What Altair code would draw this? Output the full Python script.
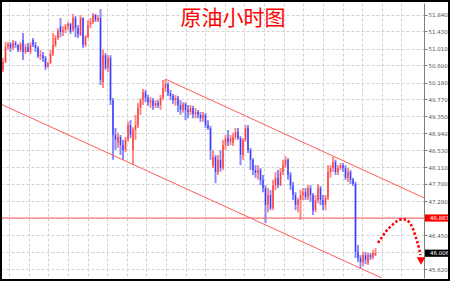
import altair as alt
import pandas as pd

# ---- data (crude oil, hourly candles) ----
opens = [
    50.49, 50.68, 51.05, 51.12, 51.03, 51.15, 51.10, 50.98, 51.22, 50.93,
    51.05, 50.93, 51.22, 51.10, 51.03, 50.83, 50.85, 50.78, 50.56, 50.66,
    50.88, 51.10, 51.27, 51.56, 51.42, 51.47, 51.56, 51.61, 51.47, 51.76,
    51.51, 51.34, 51.76, 51.10, 51.29, 51.59, 51.66, 51.83, 51.71, 51.76,
    50.19, 50.85, 50.54, 50.78, 49.75, 48.90, 48.70, 48.85, 48.65, 48.53,
    48.78, 49.14, 48.53, 49.02, 49.14, 49.56, 49.75, 49.95, 49.80, 49.70,
    49.75, 49.61, 49.68, 49.63, 49.80, 50.05, 50.14, 49.92, 49.85, 49.75,
    49.80, 49.63, 49.51, 49.66, 49.51, 49.46, 49.56, 49.41, 49.46, 49.39,
    49.31, 49.39, 49.14, 49.07, 48.16, 48.36, 47.99, 48.29, 48.09, 48.65,
    48.82, 48.73, 48.70, 48.85, 48.97, 48.82, 48.41, 48.78, 49.07, 48.53,
    48.29, 48.04, 47.97, 48.04, 47.80, 47.60, 47.19, 47.43, 47.11, 47.67,
    47.85, 47.67, 47.99, 48.16, 48.29, 47.92, 47.67, 47.43, 47.19, 47.31,
    47.43, 47.50, 47.38, 47.60, 47.43, 47.06, 47.31, 47.60, 47.31, 47.19,
    47.36, 47.99, 48.09, 48.24, 47.99, 48.09, 48.16, 48.09, 47.85, 47.99,
    47.80, 47.70, 46.04, 45.89, 45.79, 45.96, 45.77, 45.96, 45.91, 45.96,
]
highs = [
    50.78, 51.17, 51.17, 51.17, 51.22, 51.20, 51.12, 51.17, 51.39, 51.12,
    51.15, 51.17, 51.27, 51.17, 51.07, 50.98, 50.93, 50.83, 50.68, 50.98,
    51.39, 51.34, 51.51, 51.76, 51.56, 51.61, 51.66, 51.64, 51.86, 51.81,
    51.59, 51.83, 51.78, 51.34, 51.71, 51.76, 51.88, 51.86, 51.83, 51.98,
    50.98, 50.90, 50.85, 50.85, 49.80, 49.07, 48.95, 48.90, 48.78, 48.85,
    49.22, 49.26, 49.09, 49.39, 49.68, 49.80, 50.02, 50.00, 49.88, 49.83,
    49.80, 49.75, 49.75, 49.88, 50.24, 50.27, 50.19, 50.00, 49.90, 49.88,
    49.85, 49.75, 49.70, 49.70, 49.63, 49.63, 49.61, 49.56, 49.51, 49.46,
    49.46, 49.44, 49.26, 49.12, 48.53, 48.41, 48.41, 48.53, 48.78, 48.90,
    49.02, 48.90, 48.95, 49.07, 49.07, 48.87, 48.82, 49.14, 49.14, 48.58,
    48.33, 48.16, 48.16, 48.09, 47.92, 47.67, 47.60, 47.55, 47.80, 47.99,
    48.04, 48.09, 48.29, 48.38, 48.33, 47.99, 47.75, 47.50, 47.36, 47.55,
    47.60, 47.60, 47.67, 47.67, 47.48, 47.43, 47.70, 47.65, 47.43, 47.43,
    48.16, 48.16, 48.36, 48.29, 48.16, 48.21, 48.21, 48.16, 48.09, 48.04,
    47.85, 47.75, 46.21, 45.96, 46.04, 46.04, 46.01, 46.01, 46.08, 46.13,
]
lows = [
    50.44, 50.66, 50.98, 50.93, 50.98, 51.03, 50.93, 50.93, 50.73, 50.88,
    50.93, 50.88, 51.05, 50.93, 50.78, 50.73, 50.68, 50.49, 50.54, 50.63,
    50.83, 51.05, 51.22, 51.29, 51.32, 51.39, 51.47, 51.37, 51.42, 51.29,
    51.27, 51.32, 51.03, 51.05, 51.27, 51.51, 51.61, 51.66, 51.66, 50.12,
    50.05, 50.49, 50.44, 49.63, 48.29, 48.53, 48.58, 48.41, 48.29, 48.48,
    48.73, 48.82, 48.16, 48.78, 49.07, 49.39, 49.63, 49.70, 49.61, 49.56,
    49.51, 49.56, 49.56, 49.51, 49.75, 49.95, 49.85, 49.75, 49.66, 49.61,
    49.46, 49.39, 49.44, 49.26, 49.31, 49.39, 49.31, 49.31, 49.31, 49.22,
    49.22, 49.07, 49.02, 48.29, 48.09, 47.72, 47.92, 48.00, 48.04, 48.53,
    48.63, 48.65, 48.63, 48.78, 48.78, 48.16, 48.29, 48.73, 48.46, 48.04,
    47.92, 47.85, 47.80, 47.67, 47.50, 46.74, 47.01, 47.06, 47.06, 47.55,
    47.60, 47.65, 47.92, 48.09, 47.80, 47.55, 47.31, 47.06, 47.01, 46.82,
    47.31, 47.31, 47.31, 47.26, 46.94, 47.01, 47.23, 47.18, 47.06, 47.06,
    47.31, 47.85, 47.99, 47.92, 47.92, 48.04, 47.99, 47.80, 47.75, 47.70,
    47.65, 45.89, 45.79, 45.64, 45.69, 45.74, 45.72, 45.84, 45.86, 45.94,
]
closes = [
    50.68, 51.05, 51.12, 51.03, 51.15, 51.10, 50.98, 51.12, 50.93, 51.05,
    50.93, 51.10, 51.10, 51.03, 50.83, 50.85, 50.78, 50.56, 50.66, 50.88,
    51.10, 51.27, 51.44, 51.42, 51.47, 51.56, 51.61, 51.42, 51.76, 51.51,
    51.37, 51.76, 51.10, 51.29, 51.59, 51.66, 51.83, 51.71, 51.76, 50.24,
    50.85, 50.54, 50.78, 49.75, 48.90, 48.78, 48.85, 48.65, 48.53, 48.78,
    49.14, 48.90, 49.02, 49.14, 49.56, 49.75, 49.95, 49.80, 49.70, 49.75,
    49.61, 49.68, 49.63, 49.80, 50.05, 50.14, 49.92, 49.85, 49.75, 49.80,
    49.63, 49.51, 49.66, 49.51, 49.46, 49.56, 49.41, 49.46, 49.39, 49.31,
    49.39, 49.14, 49.07, 48.53, 48.36, 47.99, 48.29, 48.09, 48.65, 48.82,
    48.73, 48.82, 48.85, 48.97, 48.82, 48.41, 48.78, 49.07, 48.53, 48.29,
    48.04, 47.97, 48.04, 47.80, 47.60, 47.19, 47.43, 47.11, 47.67, 47.85,
    47.67, 47.99, 48.16, 48.29, 47.92, 47.67, 47.43, 47.19, 47.31, 47.43,
    47.50, 47.38, 47.60, 47.43, 47.06, 47.31, 47.60, 47.31, 47.19, 47.36,
    47.99, 48.09, 48.24, 47.99, 48.09, 48.16, 48.09, 47.85, 47.99, 47.80,
    47.70, 46.04, 45.89, 45.79, 45.96, 45.84, 45.96, 45.91, 46.01, 46.01,
]

tick_values = [51.84, 51.43, 51.01, 50.60, 50.18, 49.77, 49.35, 48.94,
               48.53, 48.11, 47.70, 47.28, 46.87, 46.45, 46.04, 45.62]

upper_i = [65.1, 168.4]
upper_v = [50.26, 47.36]
lower_i = [-0.4, 151.5]
lower_v = [49.64, 45.40]

level_value = 46.867
current_value = 46.006
level_label = "46.867"
current_label = "46.006"

arrow_i = [150.0, 151.6, 153.6, 155.6, 157.6, 160.0, 162.4, 164.0, 165.2, 166.4, 167.0]
arrow_v = [46.26, 46.40, 46.57, 46.69, 46.79, 46.84, 46.77, 46.60, 46.38, 46.13, 45.96]
arrow_head_i = [167.2]
arrow_head_v = [45.815]

title_text = "原油小时图"

# ---- tables ----
candles = pd.DataFrame({
    "i": list(range(len(opens))),
    "open": opens, "high": highs, "low": lows, "close": closes,
})
candles["dir"] = ["up" if c >= o else "down" for o, c in zip(opens, closes)]

X_DOMAIN = [-0.4, 168.4]
Y_DOMAIN = [45.40, 52.126]
xs = alt.Scale(domain=X_DOMAIN, nice=False, zero=False)
ys = alt.Scale(domain=Y_DOMAIN, nice=False, zero=False)

vgrid = [2.52 + 7.84 * k for k in range(21)]
GRID = "#d2d2d2"
LINE_RED = "#ff5c5c"

wicks = alt.Chart(candles).mark_rule(strokeWidth=2).encode(
    x=alt.X("i:Q", scale=xs, axis=alt.Axis(values=vgrid, tickCount=len(vgrid) + 5, grid=True,
                                         labels=False, ticks=False, domain=False, title="",
                                         gridColor=GRID, gridDash=[3, 2])),
    y=alt.Y("low:Q", scale=ys, axis=alt.Axis(orient="right", values=tick_values,
                                           tickCount=len(tick_values) + 5, format=".3f",
                                           grid=True, gridColor=GRID, gridDash=[3, 2],
                                           labelFontSize=5.5, labelColor="#555555",
                                           labelFont="DejaVu Sans", labelOverlap=False,
                                           labelBound=False,
                                           tickSize=3, tickColor="#808080",
                                           domainColor="#808080", labelPadding=1, title="")),
    y2="high:Q",
    color=alt.Color("dir:N", scale=alt.Scale(domain=["up", "down"], range=["#ff8a8a", "#8a8aff"]),
                    legend=None),
)

bodies = alt.Chart(candles).mark_rule(strokeWidth=1.2, opacity=0.75).encode(
    x=alt.X("i:Q", scale=xs),
    y=alt.Y("open:Q", scale=ys),
    y2="close:Q",
    stroke=alt.Stroke("dir:N", scale=alt.Scale(domain=["up", "down"], range=["#ff2020", "#2020ff"]),
                      legend=None),
)

upper = alt.Chart(pd.DataFrame({"i": upper_i, "v": upper_v})).mark_line(
    color=LINE_RED, strokeWidth=1, clip=True).encode(
    x=alt.X("i:Q", scale=xs), y=alt.Y("v:Q", scale=ys))
lower = alt.Chart(pd.DataFrame({"i": lower_i, "v": lower_v})).mark_line(
    color=LINE_RED, strokeWidth=1, clip=True).encode(
    x=alt.X("i:Q", scale=xs), y=alt.Y("v:Q", scale=ys))
level = alt.Chart(pd.DataFrame({"v": [level_value]})).mark_rule(
    color=LINE_RED, strokeWidth=1).encode(y=alt.Y("v:Q", scale=ys))

arrow = alt.Chart(pd.DataFrame({"i": arrow_i, "v": arrow_v})).mark_line(
    color="#ff0000", strokeWidth=2.5, strokeDash=[2.5, 2], interpolate="monotone").encode(
    x=alt.X("i:Q", scale=xs), y=alt.Y("v:Q", scale=ys))
arrow_head = alt.Chart(pd.DataFrame({"i": arrow_head_i, "v": arrow_head_v})).mark_point(
    shape="triangle-down", filled=True, size=75, color="#ff0000", opacity=1).encode(
    x=alt.X("i:Q", scale=xs), y=alt.Y("v:Q", scale=ys))


def tag(value, label, bg):
    df = pd.DataFrame({"v": [value], "label": [label]})
    box = alt.Chart(df).transform_calculate(
        top="datum.v + 0.088", bot="datum.v - 0.088").mark_rect(color=bg).encode(
        x=alt.value(423), x2=alt.value(446),
        y=alt.Y("top:Q", scale=ys), y2="bot:Q")
    txt = alt.Chart(df).mark_text(align="left", baseline="middle", fontSize=5.5,
                                  font="DejaVu Sans", color="#ffffff").encode(
        x=alt.value(428), y=alt.Y("v:Q", scale=ys), text="label:N")
    return box, txt


lvl_box, lvl_txt = tag(level_value, level_label, "#ff0000")
cur_box, cur_txt = tag(current_value, current_label, "#000000")

title = alt.Chart(pd.DataFrame({"t": [title_text]})).mark_text(
    font="Noto Sans CJK SC", fontSize=21, color="#ff0000", align="center", baseline="middle").encode(
    x=alt.value(231), y=alt.value(16), text="t:N")

frame = alt.Chart(pd.DataFrame({"a": [0]})).mark_rect(
    filled=False, stroke="#000000", strokeWidth=4).encode(
    x=alt.value(-2), x2=alt.value(448), y=alt.value(-3), y2=alt.value(278))

chart = alt.layer(
    wicks, level, upper, lower, bodies, arrow, arrow_head,
    lvl_box, lvl_txt, cur_box, cur_txt, title, frame
).properties(
    width=422, height=275,
    autosize=alt.AutoSizeParams(type="none"),
    padding={"left": 2, "top": 3, "right": 26, "bottom": 3},
    background="#ffffff",
).configure_view(strokeWidth=0)

chart.save("out.html", embed_options={"renderer": "svg", "actions": False})
